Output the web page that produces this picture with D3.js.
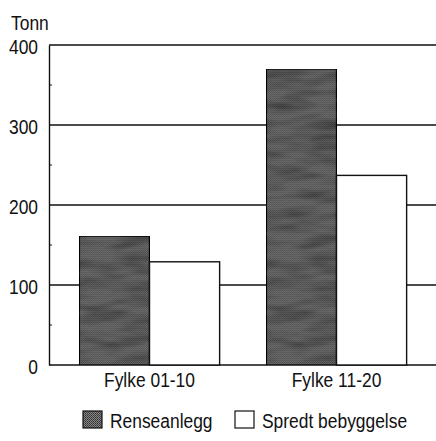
<!DOCTYPE html>
<html><head><meta charset="utf-8">
<script src="https://cdn.jsdelivr.net/npm/d3@7/dist/d3.min.js"></script>
<style>
body{margin:0;background:#fff;}
text{font-family:"Liberation Sans",Arial,sans-serif;fill:#111;}
</style></head>
<body><svg id="c" width="436" height="441"></svg>
<script>
const categories = ["Fylke 01-10", "Fylke 11-20"];
const seriesNames = ["Renseanlegg", "Spredt bebyggelse"];
const renseanlegg = [161, 370];
const spredt = [129, 237];
const yTicks = [0, 100, 200, 300, 400];
const yMinorTicks = [50, 150, 250, 350];
const unitLabel = "Tonn";

const FS = 20;
const condense = 0.87; // narrow typeface look
function narrow(sel){
  sel.each(function(){
    const t = d3.select(this);
    const w = this.getComputedTextLength();
    t.attr("textLength", w*condense).attr("lengthAdjust","spacingAndGlyphs");
  });
}

const svg = d3.select("#c");
const defs = svg.append("defs");
const pat = defs.append("pattern").attr("id","dots").attr("width",2).attr("height",2).attr("patternUnits","userSpaceOnUse");
pat.append("rect").attr("width",2).attr("height",2).attr("fill","#858585");
pat.append("rect").attr("width",1).attr("height",1).attr("fill","#333");
pat.append("rect").attr("x",1).attr("y",1).attr("width",1).attr("height",1).attr("fill","#444");
const filt = defs.append("filter").attr("id","mottle").attr("x",0).attr("y",0).attr("width","100%").attr("height","100%");
filt.append("feTurbulence").attr("type","fractalNoise").attr("baseFrequency","0.025 0.1").attr("numOctaves",2).attr("seed",5).attr("result","n");
filt.append("feColorMatrix").attr("in","n").attr("type","matrix")
  .attr("values","0 0 0 0 0  0 0 0 0 0  0 0 0 0 0  0 0 0 1.1 -0.4").attr("result","a");
filt.append("feComposite").attr("in","a").attr("in2","SourceGraphic").attr("operator","in").attr("result","m");
filt.append("feMerge").selectAll("feMergeNode").data(["SourceGraphic","m"]).join("feMergeNode").attr("in",d=>d);

const xLeft = 49, xRight = 436, yTop = 45, yBottom = 365;
const y = d3.scaleLinear().domain([0, 400]).range([yBottom, yTop]);
const x0 = d3.scaleBand().domain(categories).range([56, 430]).paddingInner(0.25).paddingOuter(0.125);
const x1 = d3.scaleBand().domain(seriesNames).range([0, x0.bandwidth()]);

// gridlines
svg.append("g").selectAll("line").data(yTicks).join("line")
  .attr("x1", xLeft).attr("x2", xRight).attr("y1", d=>y(d)).attr("y2", d=>y(d))
  .attr("stroke","#111").attr("stroke-width",1.4);

// bars
const data = categories.map((c,i)=>({c, vals:[renseanlegg[i], spredt[i]]}));
const g = svg.append("g").selectAll("g").data(data).join("g").attr("transform", d=>`translate(${x0(d.c)},0)`);
g.selectAll("rect").data(d=>d.vals.map((v,j)=>({s:seriesNames[j], v, j}))).join("rect")
  .attr("x", d=>x1(d.s)).attr("width", x1.bandwidth())
  .attr("y", d=>y(d.v)).attr("height", d=>y(0)-y(d.v))
  .attr("fill", d=>d.j===0?"url(#dots)":"#fff")
  .attr("filter", d=>d.j===0?"url(#mottle)":null)
  .attr("stroke","#111").attr("stroke-width",1.4);

// y axis
const yAxis = d3.axisLeft(y).tickValues(yTicks).tickSize(0).tickPadding(11).tickFormat(d3.format("d"));
const ya = svg.append("g").attr("transform",`translate(${xLeft},0)`).call(yAxis);
ya.select(".domain").attr("stroke","#111").attr("stroke-width",1.4);
ya.selectAll("text").attr("font-size",FS).attr("dy","0.4em").attr("fill","#111").style("font-family",null).call(narrow);
svg.append("g").selectAll("line").data(yMinorTicks).join("line")
  .attr("x1",xLeft).attr("x2",xLeft+3).attr("y1",d=>y(d)).attr("y2",d=>y(d)).attr("stroke","#111");

// x axis labels
const xAxis = d3.axisBottom(x0).tickSize(0).tickPadding(8);
const xa = svg.append("g").attr("transform",`translate(0,${yBottom})`).call(xAxis);
xa.select(".domain").remove();
xa.selectAll("text").attr("font-size",FS).attr("fill","#111").style("font-family",null).call(narrow);

svg.append("text").attr("x",11).attr("y",30).attr("font-size",FS).text(unitLabel).call(narrow);

// legend
const legendX = [83, 235];
const lg = svg.append("g").selectAll("g").data(seriesNames).join("g")
  .attr("transform",(d,i)=>`translate(${legendX[i]},411)`);
lg.append("rect").attr("width",19).attr("height",17)
  .attr("fill",(d,i)=>i===0?"url(#dots)":"#fff").attr("stroke","#111").attr("stroke-width",1.2);
lg.append("text").attr("x",27).attr("y",17).attr("font-size",FS).text(d=>d).call(narrow);
</script></body></html>
